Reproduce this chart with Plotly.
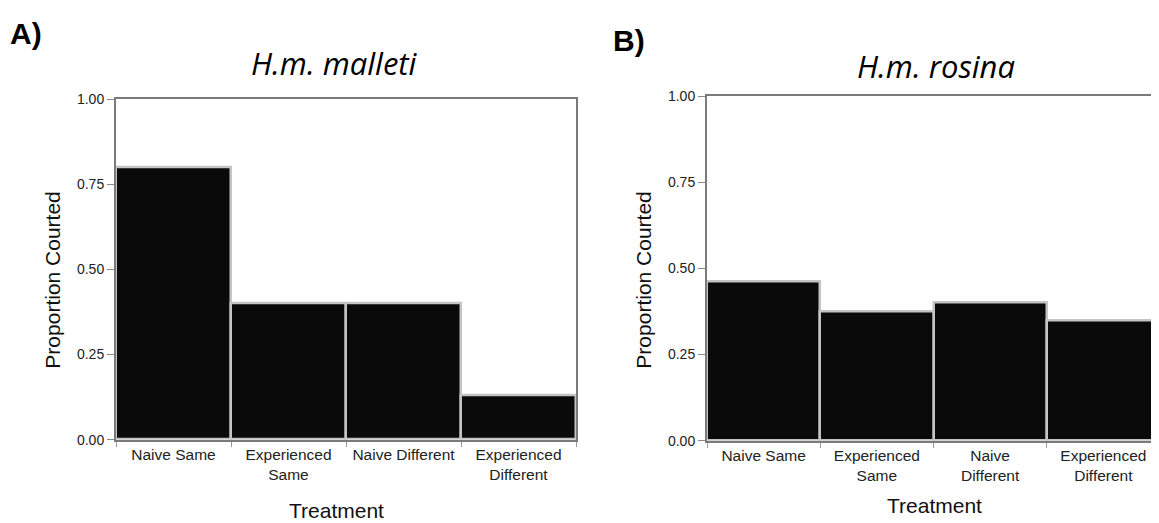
import plotly.graph_objects as go

W, H = 1159, 523

# Data
cats_a = ["Naive Same", "Experienced<br>Same", "Naive Different", "Experienced<br>Different"]
vals_a = [0.80, 0.40, 0.40, 0.13]
cats_b = ["Naive Same", "Experienced<br>Same", "Naive<br>Different", "Experienced<br>Different"]
vals_b = [0.462, 0.375, 0.40, 0.35]
yticks = [0.0, 0.25, 0.5, 0.75, 1.0]
ytick_text = ["0.00", "0.25", "0.50", "0.75", "1.00"]
title_a = "H.m. malleti"
title_b = "H.m. rosina"
ytitle = "Proportion Courted"
xtitle = "Treatment"

def px_x(x):
    return x / W

def px_y(y):
    return 1 - y / H

FRAME = "#7a7a7a"
BORDER = "#c4c4c4"
FILL = "#0a0a0a"
TICKF = dict(family="Liberation Sans, Arial, sans-serif", size=14, color="#222222")
CATF = dict(family="Liberation Sans, Arial, sans-serif", size=15.5, color="#222222")

fig = go.Figure()
fig.add_trace(go.Bar(x=cats_a, y=vals_a, width=1, marker=dict(color=FILL, line=dict(color=BORDER, width=2.5)),
                     xaxis="x", yaxis="y", showlegend=False, hoverinfo="x+y"))
fig.add_trace(go.Bar(x=cats_b, y=vals_b, width=1, marker=dict(color=FILL, line=dict(color=BORDER, width=2.5)),
                     xaxis="x2", yaxis="y2", showlegend=False, hoverinfo="x+y"))

xcommon = dict(type="category", tickson="boundaries", ticks="outside", ticklen=5, tickcolor="#999999",
               showline=True, linecolor=FRAME, linewidth=2, showgrid=False, zeroline=False,
               tickfont=CATF, fixedrange=True)
ycommon = dict(range=[0, 1], tickvals=yticks, ticktext=ytick_text, ticks="outside", ticklen=7,
               tickcolor="#888888", showline=True, linecolor=FRAME, linewidth=2, showgrid=False,
               zeroline=False, tickfont=TICKF, fixedrange=True)

fig.update_layout(
    width=W, height=H,
    margin=dict(l=0, r=0, t=0, b=0),
    paper_bgcolor="white", plot_bgcolor="white",
    bargap=0,
    xaxis=dict(domain=[px_x(108), px_x(568)], anchor="y", mirror=True, **xcommon),
    yaxis=dict(domain=[px_y(437), px_y(86)], anchor="x", mirror=True, **ycommon),
    xaxis2=dict(domain=[px_x(699), px_x(1152)], anchor="y2", mirror=True, **xcommon),
    yaxis2=dict(domain=[px_y(438), px_y(83)], anchor="x2", mirror=False, **ycommon),
)

ann = []
labf = dict(family="Liberation Sans, Arial, sans-serif", size=30, color="black")
ann.append(dict(text="<b>A)</b>", x=px_x(0), y=px_y(18), xanchor="left", yanchor="middle", font=labf))
ann.append(dict(text="<b>B)</b>", x=px_x(603), y=px_y(25), xanchor="left", yanchor="middle", font=labf))
tf = dict(family="Open Sans, Noto Sans, sans-serif", size=31, color="black")
ann.append(dict(text="<i>" + title_a + "</i>", x=px_x(326), y=px_y(48), xanchor="center", yanchor="middle", font=tf))
ann.append(dict(text="<i>" + title_b + "</i>", x=px_x(928), y=px_y(52), xanchor="center", yanchor="middle", font=tf))
af = dict(family="Liberation Sans, Arial, sans-serif", size=21, color="#111111")
ann.append(dict(text=ytitle, x=px_x(45), y=px_y(273), textangle=-90, xanchor="center", yanchor="middle", font=af))
ann.append(dict(text=ytitle, x=px_x(636), y=px_y(273), textangle=-90, xanchor="center", yanchor="middle", font=af))
ann.append(dict(text=xtitle, x=px_x(329), y=px_y(510), xanchor="center", yanchor="middle", font=af))
ann.append(dict(text=xtitle, x=px_x(926), y=px_y(505), xanchor="center", yanchor="middle", font=af))
for a in ann:
    a.update(xref="paper", yref="paper", showarrow=False)
fig.update_layout(annotations=ann)

fig.write_html("out.html")
